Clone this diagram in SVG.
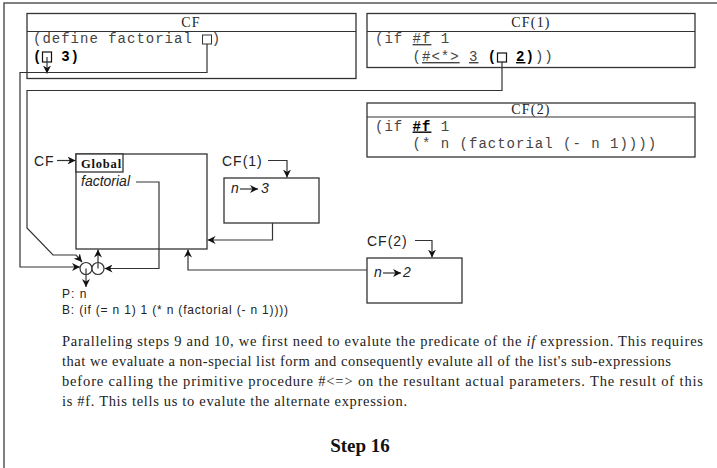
<svg xmlns="http://www.w3.org/2000/svg" width="717" height="468" viewBox="0 0 717 468">
<style>
.frame{fill:none;stroke:#555;stroke-width:1.5}
.box{fill:#fff;stroke:#333;stroke-width:1.3}
.ln{fill:none;stroke:#333;stroke-width:1.2}
.title{font-family:"Liberation Serif",serif;font-size:14px;letter-spacing:1.2px;fill:#222;text-anchor:middle}
.code{font-family:"Liberation Mono",monospace;font-size:14px;letter-spacing:1px;fill:#444}
.b{font-weight:bold;fill:#000}
.u{text-decoration:underline}
.sans{font-family:"Liberation Sans",Arial,sans-serif;font-size:14px;fill:#222}
.it{font-style:italic}
.small{font-family:"Liberation Sans",Arial,sans-serif;font-size:12px;fill:#222}
.para{font-family:"Liberation Serif",serif;font-size:14.5px;fill:#222}
</style>
<defs>
<marker id="ah" viewBox="0 0 10 10" refX="10" refY="5" markerWidth="8" markerHeight="8" markerUnits="userSpaceOnUse" orient="auto">
<path d="M0,0 L10,5 L0,10 L3,5 z" fill="#111"/>
</marker>
</defs>
<path class="frame" d="M4,468 V3 H717"/>

<g id="cf-code">
<rect class="box" x="27" y="13.5" width="329" height="65"/>
<line class="ln" x1="27" y1="31.5" x2="356" y2="31.5"/>
<text class="title" x="191" y="27">CF</text>
<text class="code" x="33" y="43" xml:space="preserve">(define factorial  )</text>
<rect x="202.5" y="35" width="9" height="9" fill="none" stroke="#333" stroke-width="1"/>
<text class="code b" x="33" y="61" xml:space="preserve">(  3)</text>
<rect x="42.5" y="52" width="9" height="10" fill="none" stroke="#111" stroke-width="1.2"/>
</g>

<g id="cf1-code">
<rect class="box" x="367" y="13.5" width="328" height="54"/>
<line class="ln" x1="367" y1="31.5" x2="695" y2="31.5"/>
<text class="title" x="531" y="27">CF(1)</text>
<text class="code" x="375" y="43" xml:space="preserve">(if <tspan class="u">#f</tspan> 1</text>
<text class="code" x="375" y="61" xml:space="preserve">    (<tspan class="u">#&lt;*&gt;</tspan> <tspan class="u">3</tspan> <tspan class="b">(  <tspan class="u">2</tspan>)</tspan>))</text>
<rect x="497.5" y="53" width="9" height="9" fill="none" stroke="#111" stroke-width="1.2"/>
</g>

<g id="cf2-code">
<rect class="box" x="367" y="103" width="328" height="54"/>
<line class="ln" x1="367" y1="117" x2="695" y2="117"/>
<text class="title" x="531" y="114">CF(2)</text>
<text class="code" x="375" y="130.5" xml:space="preserve">(if <tspan class="b u">#f</tspan> 1</text>
<text class="code" x="375" y="148" xml:space="preserve">    (* n (factorial (- n 1))))</text>
</g>

<g id="global">
<rect class="box" x="76" y="154" width="131" height="95"/>
<rect class="box" x="76" y="154" width="47" height="18"/>
<text x="81" y="167.5" font-family="Liberation Serif,serif" font-size="12.5" font-weight="bold" letter-spacing="0.8" fill="#111">Global</text>
<text class="sans it" x="81" y="186">factorial</text>
<text class="sans" x="34" y="166" letter-spacing="1">CF</text>
</g>

<g id="env-cf1">
<rect class="box" x="224" y="178" width="95" height="45"/>
<text class="sans" x="222" y="166" letter-spacing="1">CF(1)</text>
<text class="sans it" x="231" y="193">n</text>
<text class="sans it" x="261" y="193">3</text>
</g>

<g id="env-cf2">
<rect class="box" x="367" y="258" width="95" height="45"/>
<text class="sans" x="367" y="246" letter-spacing="1">CF(2)</text>
<text class="sans it" x="374" y="277">n</text>
<text class="sans it" x="403" y="277">2</text>
</g>

<g id="closure">
<circle cx="86" cy="268.5" r="6" fill="#fff" stroke="#333" stroke-width="1.2"/>
<circle cx="98" cy="268.5" r="6" fill="#fff" stroke="#333" stroke-width="1.2"/>
<text class="small" x="62" y="298" letter-spacing="1">P: n</text>
<text class="small" x="62" y="314" textLength="226" lengthAdjust="spacing">B: (if (= n 1) 1 (* n (factorial (- n 1))))</text>
</g>

<g id="connectors">
<line class="ln" x1="47" y1="57" x2="47" y2="73.5" marker-end="url(#ah)"/>
<polyline class="ln" points="207,44 207,72.5 20,72.5 20,267 80,267" marker-end="url(#ah)"/>
<polyline class="ln" points="502,62 502,90.5 27,90.5 27,228 53,255 76,255 82,262" marker-end="url(#ah)"/>
<line class="ln" x1="86" y1="268.5" x2="86" y2="287" marker-end="url(#ah)"/>
<line class="ln" x1="98" y1="268.5" x2="98" y2="249.5" marker-end="url(#ah)"/>
<polyline class="ln" points="136,182 159,182 159,268.5 104.5,268.5" marker-end="url(#ah)"/>
<line class="ln" x1="57" y1="160.5" x2="75.5" y2="160.5" marker-end="url(#ah)"/>
<polyline class="ln" points="268,160.5 287,160.5 287,177.5" marker-end="url(#ah)"/>
<line class="ln" x1="240" y1="189" x2="258" y2="189" marker-end="url(#ah)"/>
<polyline class="ln" points="272.5,223 272.5,240 207.5,240" marker-end="url(#ah)"/>
<polyline class="ln" points="415,240.5 432,240.5 432,257.5" marker-end="url(#ah)"/>
<line class="ln" x1="383" y1="273" x2="401" y2="273" marker-end="url(#ah)"/>
<polyline class="ln" points="367,270 188,270 188,249.5" marker-end="url(#ah)"/>
</g>

<g id="caption">
<text class="para" x="62" y="346" textLength="641" lengthAdjust="spacing">Paralleling steps 9 and 10, we first need to evalute the predicate of the <tspan font-style="italic">if</tspan> expression.  This requires</text>
<text class="para" x="62" y="366" textLength="609" lengthAdjust="spacing">that we evaluate a non-special list form and consequently evalute all of the list's sub-expressions</text>
<text class="para" x="62" y="386" textLength="641" lengthAdjust="spacing">before calling the primitive procedure #&lt;=&gt; on the resultant actual parameters.  The result of this</text>
<text class="para" x="62" y="406" textLength="345" lengthAdjust="spacing">is #f.  This tells us to evalute the alternate expression.</text>
<text x="360" y="452" font-family="Liberation Serif,serif" font-size="19" font-weight="bold" text-anchor="middle" fill="#111">Step 16</text>
</g>
</svg>
